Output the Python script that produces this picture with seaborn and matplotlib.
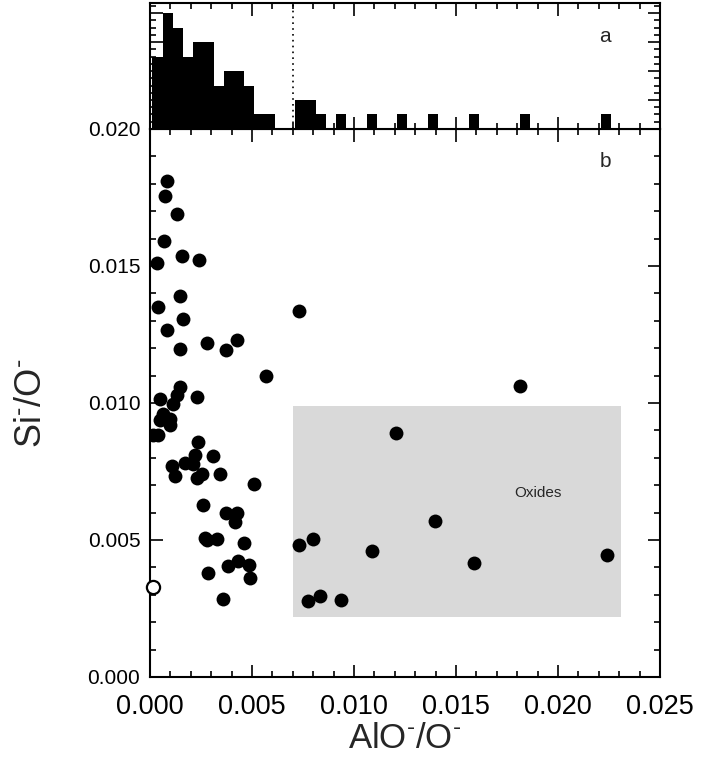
import numpy as np
import pandas as pd
import matplotlib
matplotlib.use('Agg')
import matplotlib.pyplot as plt
from matplotlib.patches import Rectangle
from matplotlib.ticker import MultipleLocator, FormatStrFormatter, NullFormatter
import seaborn as sns

# AlO-/O- and Si-/O- ratios (filled circles)
alo_ratio = [0.00082, 0.00074, 0.00134, 0.00069, 0.00033, 0.00155, 0.00242, 0.00147,
             0.00041, 0.00163, 0.00082,
             0.00278, 0.00425, 0.00373, 0.00147, 0.00569, 0.00147, 0.00131, 0.00114,
             0.00049, 0.00229, 0.00065, 0.00098, 0.00049, 0.00098, 0.00041, 0.00016,
             0.00237, 0.00221, 0.00310, 0.00172, 0.00212, 0.00106, 0.00123, 0.00229,
             0.00256, 0.00343, 0.00511,
             0.00258, 0.00373, 0.00428, 0.00417, 0.00270, 0.00278, 0.00327, 0.00461,
             0.00384, 0.00433, 0.00487, 0.00490, 0.00283, 0.00356,
             0.00730, 0.01206, 0.01399, 0.00730, 0.00797, 0.01088, 0.01590, 0.00776,
             0.00833, 0.00936, 0.01814, 0.02242]
si_ratio = [0.01811, 0.01757, 0.01690, 0.01590, 0.01511, 0.01538, 0.01522, 0.01389,
            0.01350, 0.01305, 0.01265,
            0.01220, 0.01228, 0.01192, 0.01196, 0.01097, 0.01058, 0.01028, 0.00995,
            0.01016, 0.01020, 0.00961, 0.00943, 0.00937, 0.00919, 0.00882, 0.00882,
            0.00856, 0.00810, 0.00807, 0.00782, 0.00779, 0.00770, 0.00733, 0.00728,
            0.00740, 0.00739, 0.00703,
            0.00628, 0.00597, 0.00599, 0.00565, 0.00508, 0.00500, 0.00503, 0.00488,
            0.00405, 0.00425, 0.00409, 0.00361, 0.00379, 0.00284,
            0.01334, 0.00889, 0.00569, 0.00480, 0.00504, 0.00461, 0.00417, 0.00279,
            0.00296, 0.00281, 0.01062, 0.00445]

# the one open circle on the y axis
open_alo = [0.00015]
open_si = [0.0033]

# panel a: AlO-/O- histogram, counts per bin
hist_counts = [5, 8, 7, 5, 6, 6, 3, 4, 4, 3, 1, 1, 0, 0, 2, 2, 1, 0, 1, 0,
               0, 1, 0, 0, 1, 0, 0, 1, 0, 0, 0, 1, 0, 0, 0, 0, 1, 0, 0, 0,
               0, 0, 0, 0, 1]
bin_start = 0.00012
bin_width = 0.0005

oxide_cut = 0.007
# oxides region: AlO-/O- from 0.007 to 0.0231, Si-/O- from 0.0022 to 0.0099
oxide_alo = (0.007, 0.0231)
oxide_si = (0.0022, 0.0099)

df = pd.DataFrame({'alo': alo_ratio, 'si': si_ratio})
edges = bin_start + bin_width * np.arange(len(hist_counts) + 1)
hist_df = pd.DataFrame({'center': edges[:-1] + bin_width / 2,
                        'count': hist_counts})

sns.set_style('ticks')
plt.rcParams['font.family'] = ['Liberation Sans', 'DejaVu Sans']
plt.rcParams['mathtext.fontset'] = 'custom'
plt.rcParams['mathtext.rm'] = 'Liberation Sans'
plt.rcParams['mathtext.it'] = 'Liberation Sans:italic'

fig = plt.figure(figsize=(7.02, 7.64), dpi=100)
ax = fig.add_axes([0.2137, 0.1139, 0.7265, 0.7173])
ax_h = fig.add_axes([0.2137, 0.8312, 0.7265, 0.1649])

# panel b
ax.add_patch(Rectangle((oxide_alo[0], oxide_si[0]), oxide_alo[1] - oxide_alo[0],
                       oxide_si[1] - oxide_si[0], facecolor='#d9d9d9',
                       edgecolor='none', zorder=1))
sns.scatterplot(data=df, x='alo', y='si', color='black', s=100, linewidth=0,
                ax=ax, zorder=3)
sns.scatterplot(x=open_alo, y=open_si, facecolor='white', edgecolor='black',
                s=90, linewidth=1.6, ax=ax, zorder=3, clip_on=False)
ax.text(0.019, 0.0067, 'Oxides', fontsize=11, ha='center', va='center')
ax.text(0.0223, 0.0188, 'b', fontsize=15, ha='center', va='center')

ax.set_xlim(0, 0.025)
ax.set_ylim(0, 0.020)
ax.xaxis.set_major_locator(MultipleLocator(0.005))
ax.xaxis.set_minor_locator(MultipleLocator(0.001))
ax.yaxis.set_major_locator(MultipleLocator(0.005))
ax.yaxis.set_minor_locator(MultipleLocator(0.001))
ax.xaxis.set_major_formatter(FormatStrFormatter('%.3f'))
ax.yaxis.set_major_formatter(FormatStrFormatter('%.3f'))
ax.set_xlabel(r'AlO$^{\text{-}}$/O$^{\text{-}}$', fontsize=25, labelpad=2)
ax.set_ylabel(r'Si$^{\text{-}}$/O$^{\text{-}}$', fontsize=26, labelpad=28)

# panel a
sns.histplot(data=hist_df, x='center', weights='count', binwidth=bin_width,
             binrange=(edges[0], edges[-1]), color='black', alpha=1,
             edgecolor='none', linewidth=0, ax=ax_h)
ax_h.axvline(oxide_cut, color='black', linestyle=(0, (1, 2.5)), linewidth=1.2)
ax_h.text(0.0223, 0.73, 'a', fontsize=15, ha='center', va='center',
          transform=ax_h.get_xaxis_transform())
ax_h.set_xlim(0, 0.025)
ax_h.set_ylim(0, 8.7)
ax_h.xaxis.set_major_locator(MultipleLocator(0.005))
ax_h.xaxis.set_minor_locator(MultipleLocator(0.001))
ax_h.yaxis.set_major_locator(MultipleLocator(2))
ax_h.yaxis.set_minor_locator(MultipleLocator(0.5))
ax_h.xaxis.set_major_formatter(NullFormatter())
ax_h.yaxis.set_major_formatter(NullFormatter())
ax_h.set_xlabel('')
ax_h.set_ylabel('')

for a in (ax, ax_h):
    a.tick_params(which='both', direction='in', top=True, right=True,
                  width=1.2, colors='black', labelsize=15, pad=7)
    a.tick_params(which='major', length=9)
    a.tick_params(which='minor', length=4)
    for sp in a.spines.values():
        sp.set_linewidth(1.5)
        sp.set_color('black')
ax.tick_params(axis='x', labelsize=19.5, pad=12)

fig.savefig('out.png', dpi=100)
